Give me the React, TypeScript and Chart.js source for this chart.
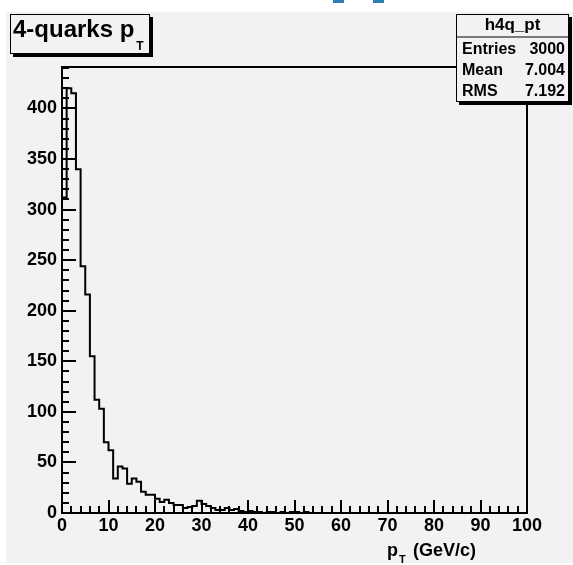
import { useEffect, useRef } from "react";
import { Chart, registerables } from "chart.js";

Chart.register(...registerables);

const W = 573;
const H = 565;

// Histogram h4q_pt: 100 bins of 1 GeV/c between 0 and 100
const X_MIN = 0;
const X_MAX = 100;
const BIN_COUNTS = [
  108, 312, 420, 415, 340, 244, 216, 155, 112, 103,
  70, 62, 34, 46, 44, 29, 34, 31, 21, 18,
  18, 14, 11, 13, 10, 8, 8, 5, 6, 7,
  12, 9, 7, 5, 3, 3, 5, 3, 4, 2,
  1, 2, 1, 1, 0, 1, 1, 0, 1, 0,
  1, 1, 0, 1, 0, 0, 0, 0, 0, 0,
  0, 0, 0, 0, 0, 0, 0, 0, 0, 0,
  0, 0, 0, 0, 0, 0, 0, 0, 0, 0,
  0, 0, 0, 0, 0, 0, 0, 0, 0, 0,
  0, 0, 0, 0, 0, 0, 0, 0, 0, 0,
];
const Y_MAX = 441;

const X_TICKS = [0, 10, 20, 30, 40, 50, 60, 70, 80, 90, 100];
const Y_TICKS = [0, 50, 100, 150, 200, 250, 300, 350, 400];
const X_MINOR_STEP = 2;
const Y_MINOR_STEP = 10;

const TITLE = "4-quarks p";
const TITLE_SUB = "T";
const X_TITLE = "p";
const X_TITLE_SUB = "T";
const X_TITLE_UNIT = "(GeV/c)";

const STATS_NAME = "h4q_pt";
const STATS_LABELS = ["Entries", "Mean", "RMS"];
const STATS_VALUES = ["3000", "7.004", "7.192"];

const PANEL = "#f2f2f2";
const FONT = '"Liberation Sans", Arial, Helvetica, sans-serif';

function pave(ctx: CanvasRenderingContext2D, x: number, y: number, w: number, h: number) {
  ctx.fillStyle = "#000";
  ctx.fillRect(x + 3, y + 3, w, h);
  ctx.fillStyle = PANEL;
  ctx.fillRect(x, y, w, h);
  ctx.strokeStyle = "#000";
  ctx.lineWidth = 1;
  ctx.strokeRect(x + 0.5, y + 0.5, w - 1, h - 1);
}

function seg(ctx: CanvasRenderingContext2D, x1: number, y1: number, x2: number, y2: number) {
  ctx.beginPath();
  ctx.moveTo(x1, y1);
  ctx.lineTo(x2, y2);
  ctx.stroke();
}

const rootLook = {
  id: "rootLook",
  beforeDraw(chart: any) {
    const ctx: CanvasRenderingContext2D = chart.ctx;
    ctx.save();
    ctx.fillStyle = "#fff";
    ctx.fillRect(0, 0, W, H);
    ctx.fillStyle = PANEL;
    ctx.fillRect(6, 12, W - 6, 551);
    ctx.fillStyle = "#2f7fb5";
    ctx.fillRect(333, 0, 11, 3);
    ctx.fillRect(373, 0, 11, 3);
    ctx.restore();
  },
  afterDraw(chart: any) {
    const ctx: CanvasRenderingContext2D = chart.ctx;
    const a = chart.chartArea;
    const xs = chart.scales.x;
    const ys = chart.scales.y;
    ctx.save();
    ctx.strokeStyle = "#000";
    ctx.lineWidth = 2;
    ctx.lineCap = "butt";
    ctx.strokeRect(a.left, a.top, a.right - a.left, a.bottom - a.top);

    // inward tick marks
    for (let v = X_MIN; v <= X_MAX; v += X_MINOR_STEP) {
      const px = Math.round(xs.getPixelForValue(v));
      const len = X_TICKS.includes(v) ? 13 : 7;
      seg(ctx, px, a.bottom, px, a.bottom - len);
    }
    for (let v = 0; v <= Y_MAX; v += Y_MINOR_STEP) {
      const py = Math.round(ys.getPixelForValue(v));
      const len = Y_TICKS.includes(v) ? 14 : 7;
      seg(ctx, a.left, py, a.left + len, py);
    }

    // title pave
    pave(ctx, 10, 14, 140, 40);
    ctx.fillStyle = "#000";
    ctx.textBaseline = "alphabetic";
    ctx.textAlign = "left";
    ctx.font = `bold 24px ${FONT}`;
    ctx.fillText(TITLE, 13, 37);
    const tw = ctx.measureText(TITLE).width;
    ctx.font = `bold 12px ${FONT}`;
    ctx.fillText(TITLE_SUB, 13 + tw + 2, 50);

    // statistics pave
    pave(ctx, 456, 14, 113, 88);
    seg(ctx, 456, 37, 569, 37);
    ctx.lineWidth = 1;
    ctx.fillStyle = "#000";
    ctx.font = `bold 17px ${FONT}`;
    ctx.textAlign = "center";
    ctx.fillText(STATS_NAME, 512.5, 30);
    ctx.font = `bold 16px ${FONT}`;
    const rowY = [53.5, 75, 96];
    STATS_LABELS.forEach((lab, i) => {
      ctx.textAlign = "left";
      ctx.fillText(lab, 462, rowY[i]);
      ctx.textAlign = "right";
      ctx.fillText(STATS_VALUES[i], 565, rowY[i]);
    });

    // x axis title
    ctx.textAlign = "left";
    ctx.font = `bold 18px ${FONT}`;
    ctx.fillText(X_TITLE, 387, 556);
    const pw = ctx.measureText(X_TITLE).width;
    ctx.font = `bold 11px ${FONT}`;
    ctx.fillText(X_TITLE_SUB, 387 + pw + 1, 563);
    ctx.font = `bold 18px ${FONT}`;
    ctx.fillText(X_TITLE_UNIT, 413, 556);
    ctx.restore();
  },
};

export default function App() {
  const ref = useRef<HTMLCanvasElement>(null);

  useEffect(() => {
    const points = [{ x: X_MIN, y: 0 }]
      .concat(BIN_COUNTS.map((c, i) => ({ x: X_MIN + i, y: c })))
      .concat([{ x: X_MAX, y: BIN_COUNTS[BIN_COUNTS.length - 1] }]);

    const tickFont = { family: FONT, size: 18, weight: "bold" as const };

    const chart = new Chart(ref.current as HTMLCanvasElement, {
      type: "line",
      data: {
        datasets: [
          {
            data: points,
            stepped: "after",
            borderColor: "#000",
            borderWidth: 2,
            pointRadius: 0,
            fill: false,
          },
        ],
      },
      plugins: [rootLook],
      options: {
        animation: false,
        responsive: false,
        maintainAspectRatio: false,
        devicePixelRatio: 1,
        layout: { padding: { left: 0, top: 67, right: 46, bottom: 0 } },
        plugins: { legend: { display: false }, tooltip: { enabled: false } },
        scales: {
          x: {
            type: "linear",
            min: X_MIN,
            max: X_MAX,
            grid: { display: false, drawTicks: false },
            border: { display: false },
            afterBuildTicks: (s: any) => {
              s.ticks = X_TICKS.map((v) => ({ value: v }));
            },
            afterFit: (s: any) => {
              s.height = 52;
            },
            ticks: {
              autoSkip: false,
              maxRotation: 0,
              padding: 2,
              color: "#000",
              font: tickFont,
            },
          },
          y: {
            type: "linear",
            min: 0,
            max: Y_MAX,
            grid: { display: false, drawTicks: false },
            border: { display: false },
            afterBuildTicks: (s: any) => {
              s.ticks = Y_TICKS.map((v) => ({ value: v }));
            },
            afterFit: (s: any) => {
              s.width = 62;
            },
            ticks: {
              autoSkip: false,
              padding: 5,
              color: "#000",
              font: tickFont,
            },
          },
        },
      },
    } as any);
    return () => chart.destroy();
  }, []);

  return (
    <div style={{ position: "fixed", left: 0, top: 0, width: W, height: H }}>
      <canvas ref={ref} width={W} height={H} style={{ display: "block", width: W, height: H }} />
    </div>
  );
}
